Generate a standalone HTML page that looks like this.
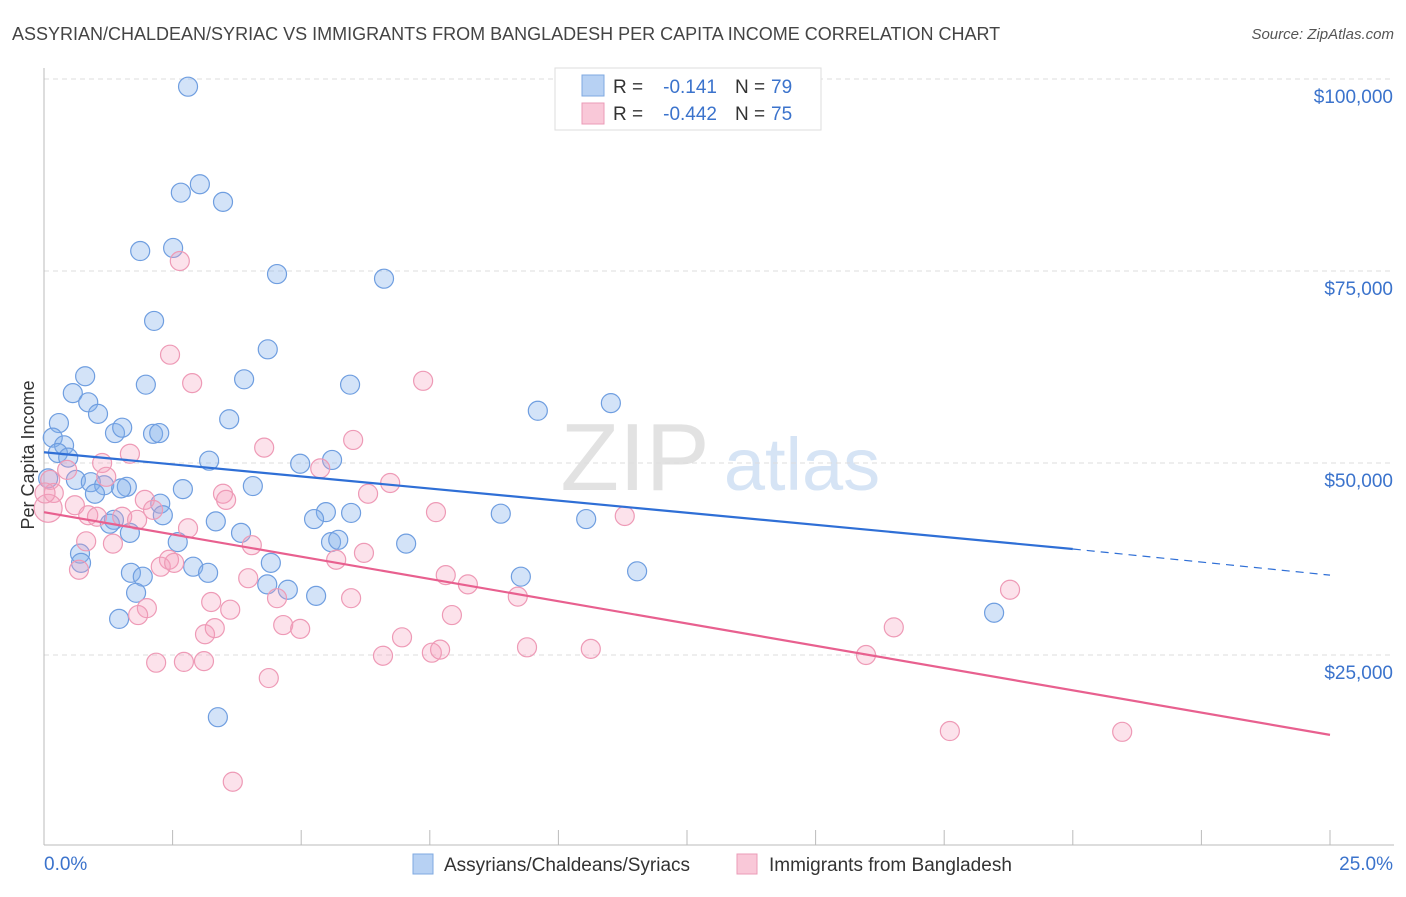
<!DOCTYPE html>
<html><head><meta charset="utf-8"><style>
body{margin:0;background:#fff;font-family:"Liberation Sans",sans-serif}
svg text{font-family:"Liberation Sans",sans-serif}
</style></head><body>
<svg id="chart" width="1406" height="892" xmlns="http://www.w3.org/2000/svg">
<text x="12" y="40" font-size="18" fill="#444">ASSYRIAN/CHALDEAN/SYRIAC VS IMMIGRANTS FROM BANGLADESH PER CAPITA INCOME CORRELATION CHART</text>
<text x="1394" y="39" font-size="15" fill="#555" text-anchor="end" font-style="italic">Source: ZipAtlas.com</text>
<g>
<text x="635" y="490" font-size="96" fill="#e2e2e2" text-anchor="middle" font-family="Liberation Serif,serif">ZIP</text>
<text x="802" y="490" font-size="74" fill="#d6e4f5" text-anchor="middle">atlas</text>
</g>
<g id="grid"></g>
<g id="axes"></g>
<g id="marks"></g>
<g id="trends"></g>
<text transform="translate(34,455) rotate(-90)" font-size="18" fill="#333" text-anchor="middle">Per Capita Income</text>
<g>
<rect x="555" y="68" width="266" height="62" fill="#fff" stroke="#ddd"/>
<rect x="582" y="75" width="22" height="21" fill="#b7d1f3" stroke="#7fa9e0"/>
<rect x="582" y="103" width="22" height="21" fill="#f9c8d8" stroke="#eb9bb7"/>
<text x="613" y="93" font-size="19" fill="#333">R =</text>
<text x="717" y="93" font-size="19" fill="#3b73cc" text-anchor="end">-0.141</text>
<text x="735" y="93" font-size="19" fill="#333">N =</text>
<text x="771" y="93" font-size="19" fill="#3b73cc">79</text>
<text x="613" y="120" font-size="19" fill="#333">R =</text>
<text x="717" y="120" font-size="19" fill="#3b73cc" text-anchor="end">-0.442</text>
<text x="735" y="120" font-size="19" fill="#333">N =</text>
<text x="771" y="120" font-size="19" fill="#3b73cc">75</text>
</g>
<g>
<rect x="413" y="854" width="20" height="20" fill="#b7d1f3" stroke="#7fa9e0"/>
<text x="444" y="871" font-size="19" fill="#333">Assyrians/Chaldeans/Syriacs</text>
<rect x="737" y="854" width="20" height="20" fill="#f9c8d8" stroke="#eb9bb7"/>
<text x="769" y="871" font-size="19" fill="#333">Immigrants from Bangladesh</text>
</g>
</svg>
<script>
const yTicks=[25000,50000,75000,100000];
const yTickLabels=["$25,000","$50,000","$75,000","$100,000"];
const xTicks=[0,2.5,5,7.5,10,12.5,15,17.5,20,22.5,25];
const xTickLabels=["0.0%","25.0%"];
const blueX=[2.80,3.03,2.66,3.48,1.87,2.51,4.53,6.61,2.14,4.35,0.80,1.98,3.89,5.95,0.56,0.86,1.05,9.60,11.02,0.29,3.60,1.38,1.52,2.12,2.24,0.17,0.39,0.27,0.47,3.21,4.98,5.60,0.08,0.62,0.91,1.17,1.61,1.50,2.70,4.06,0.99,2.26,2.31,5.48,5.97,5.25,3.34,8.88,10.54,1.36,1.28,1.67,3.83,7.04,5.58,5.72,2.60,0.70,0.72,4.41,2.90,3.19,1.69,1.92,9.27,11.53,4.34,4.74,1.79,5.29,1.46,18.47,3.38];
const blueY=[99.0,86.3,85.2,84.0,77.6,78.0,74.6,74.0,68.5,64.8,61.3,60.2,60.9,60.2,59.1,57.9,56.4,56.8,57.8,55.2,55.7,53.9,54.6,53.8,53.9,53.3,52.3,51.3,50.7,50.3,49.9,50.4,48.0,47.8,47.5,47.1,46.9,46.7,46.6,47.0,46.0,44.7,43.2,43.6,43.5,42.7,42.4,43.4,42.7,42.6,42.1,40.9,40.9,39.5,39.7,40.0,39.7,38.2,37.0,37.0,36.5,35.7,35.7,35.2,35.2,35.9,34.2,33.5,33.1,32.7,29.7,30.5,16.9];
const pinkX=[2.64,2.45,2.88,7.37,4.28,6.01,1.67,0.45,1.13,1.21,5.37,6.73,6.30,0.12,0.19,3.48,3.54,1.96,0.60,0.86,1.03,2.12,1.52,1.81,7.62,11.29,2.80,0.82,1.34,4.04,5.68,6.22,2.43,2.27,2.53,0.68,3.97,7.81,8.24,18.78,4.53,5.97,9.21,3.25,2.00,3.62,1.83,7.93,4.65,4.98,3.13,3.32,6.96,7.54,7.70,9.39,10.63,16.52,15.98,2.18,2.72,3.11,6.59,4.37,17.61,20.96,3.67,0.08,0.02];
const pinkY=[76.3,64.1,60.4,60.7,52.0,53.0,51.2,49.1,50.0,48.2,49.3,47.4,46.0,47.8,46.1,46.0,45.2,45.2,44.5,43.2,43.0,43.9,43.0,42.6,43.6,43.1,41.5,39.8,39.5,39.3,37.4,38.3,37.4,36.5,37.0,36.1,35.0,35.4,34.2,33.5,32.4,32.4,32.6,31.9,31.1,30.9,30.2,30.2,28.9,28.4,27.7,28.5,27.3,25.3,25.7,26.0,25.8,28.6,25.0,24.0,24.1,24.2,24.9,22.0,15.1,15.0,8.5,44.1,46.1];
const blueTrend=[51.4,38.8,35.4];
const blueTrendX=[0,20,25];
const pinkTrend=[43.6,14.6];
const pinkTrendX=[0,25];

const NS="http://www.w3.org/2000/svg";
const sx=v=>44+v/25*1286;
const sy=v=>847-v/25000*192;
const syk=v=>sy(v*1000);
function mk(tag,attrs,parent){const e=document.createElementNS(NS,tag);for(const k in attrs)e.setAttribute(k,attrs[k]);parent.appendChild(e);return e;}
const grid=document.getElementById('grid'),axes=document.getElementById('axes'),marks=document.getElementById('marks'),trends=document.getElementById('trends');
yTicks.forEach((t,i)=>{
 const l=mk('line',{x1:44,x2:1394,y1:sy(t),y2:sy(t),stroke:'#ddd','stroke-dasharray':'5,4'},grid);
 
 
 const tx=mk('text',{x:1393,y:sy(t)+24,'font-size':19,fill:'#3b73cc','text-anchor':'end'},axes);
 tx.textContent=yTickLabels[i];
 
 
});
const ya=mk('line',{x1:44,x2:44,y1:68,y2:845,stroke:'#bbb'},axes);


const xa=mk('line',{x1:44,x2:1394,y1:845,y2:845,stroke:'#bbb'},axes);


xTicks.forEach(t=>{
 const l=mk('line',{x1:sx(t),x2:sx(t),y1:830,y2:845,stroke:'#bbb'},axes);
 
 
});
const x0=mk('text',{x:44,y:870,'font-size':19,fill:'#3b73cc'},axes);x0.textContent=xTickLabels[0];


const x1=mk('text',{x:1393,y:870,'font-size':19,fill:'#3b73cc','text-anchor':'end'},axes);x1.textContent=xTickLabels[1];


blueX.forEach((v,i)=>{
 const c=mk('circle',{cx:sx(v),cy:syk(blueY[i]),r:9.5,fill:'rgba(130,175,235,0.35)',stroke:'#6f9ee0','stroke-width':1.2},marks);
 
 
});
pinkX.forEach((v,i)=>{
 const c=mk('circle',{cx:sx(v),cy:syk(pinkY[i]),r:(i>=pinkX.length-2?(i==pinkX.length-2?14:10):9.5),fill:'rgba(244,160,190,0.3)',stroke:'#ee9ab6','stroke-width':1.2},marks);
 
 
});
const bt=mk('line',{x1:sx(blueTrendX[0]),y1:syk(blueTrend[0]),x2:sx(blueTrendX[1]),y2:syk(blueTrend[1]),stroke:'#2f6fd6','stroke-width':2.2},trends);


const bd=mk('line',{x1:sx(blueTrendX[1]),y1:syk(blueTrend[1]),x2:sx(blueTrendX[2]),y2:syk(blueTrend[2]),stroke:'#2f6fd6','stroke-width':1.2,'stroke-dasharray':'8,6'},trends);


const pt=mk('line',{x1:sx(pinkTrendX[0]),y1:syk(pinkTrend[0]),x2:sx(pinkTrendX[1]),y2:syk(pinkTrend[1]),stroke:'#e8608f','stroke-width':2.2},trends);


</script>
</body></html>
